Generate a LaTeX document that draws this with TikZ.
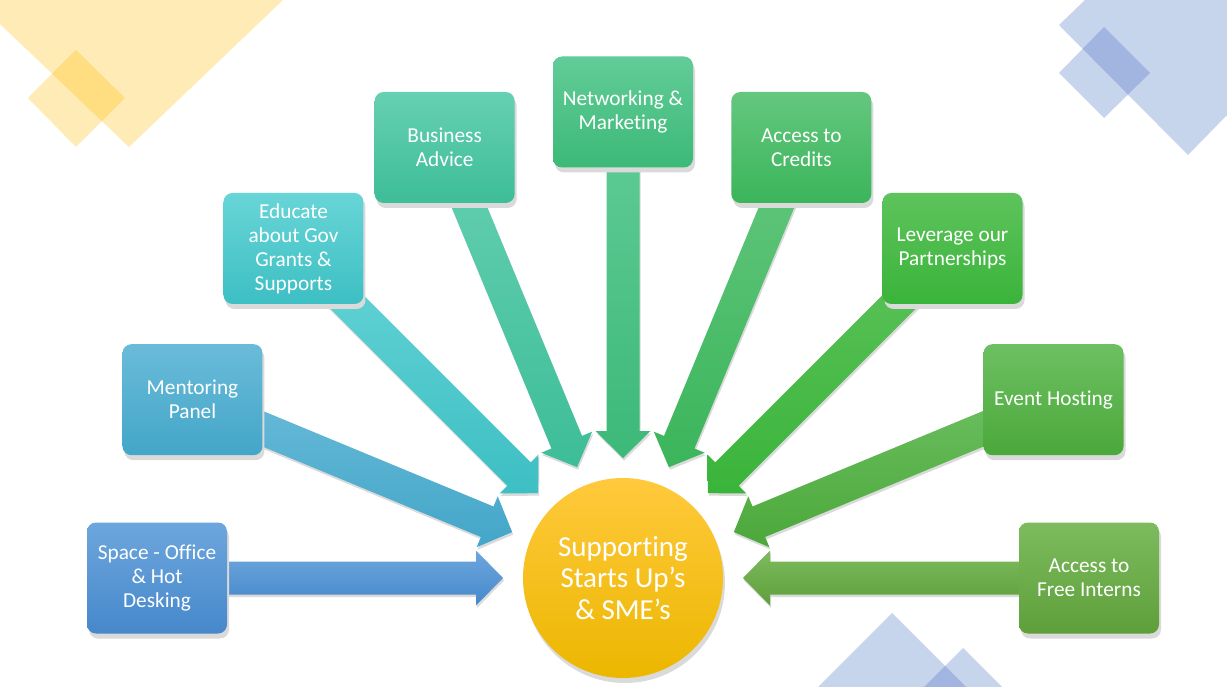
\documentclass[tikz,border=0pt]{standalone}
\usepackage{fontspec}
\setmainfont{Carlito}[Ligatures=NoCommon]
\usetikzlibrary{calc}
\definecolor{decoY}{HTML}{FEEBB5}\definecolor{decoYY}{HTML}{FEDE80}
\definecolor{decoB}{HTML}{C6D4EC}\definecolor{decoBB}{HTML}{A2B5E0}
\definecolor{shadowgray}{HTML}{DADADA}
\definecolor{cAt}{HTML}{6DA6DD}\definecolor{cAb}{HTML}{4688CB}
\definecolor{cBt}{HTML}{6ABBD9}\definecolor{cBb}{HTML}{43A6C8}
\definecolor{cCt}{HTML}{68D5D7}\definecolor{cCb}{HTML}{3DBFC3}
\definecolor{cDt}{HTML}{66D0B2}\definecolor{cDb}{HTML}{3DBD98}
\definecolor{cEt}{HTML}{62CC98}\definecolor{cEb}{HTML}{3CB978}
\definecolor{cFt}{HTML}{64C77E}\definecolor{cFb}{HTML}{3BB55B}
\definecolor{cGt}{HTML}{5EC35C}\definecolor{cGb}{HTML}{3AB43A}
\definecolor{cHt}{HTML}{6DC062}\definecolor{cHb}{HTML}{4BA83A}
\definecolor{cIt}{HTML}{7DBB5E}\definecolor{cIb}{HTML}{5E9F3A}
\definecolor{circT}{HTML}{FFC93C}\definecolor{circB}{HTML}{ECB700}
\pgfdeclarelayer{paper}
\pgfdeclarelayer{deco}
\pgfdeclarelayer{ashadow}
\pgfdeclarelayer{arrows}
\pgfsetlayers{paper,deco,ashadow,arrows,main}
\tikzset{
  shadowshift/.style={transform canvas={shift={(1pt,-2.5pt)}}},
  boxshape/.style={rounded corners=9pt, minimum width=140pt, minimum height=111pt, inner sep=0pt},
  box/.style={boxshape, text=white, align=center, font=\fontsize{21.3}{24}\selectfont},
  boxshadow/.style={boxshape, fill=shadowgray, shadowshift},
  hubshape/.style={circle, minimum size=200pt, inner sep=0pt},
  hub/.style={hubshape, text=white, align=center,
    top color=circT, bottom color=circB, font=\fontsize{29}{31.5}\selectfont},
}
% #1 angle, #2 name, #3 top colour, #4 bottom colour, #5 text
\newcommand{\ringbox}[5]{%
  \node[boxshadow] at ($(c0)+(#1:466)$) {};
  \node[box, top color=#3, bottom color=#4] (#2) at ($(c0)+(#1:466)$) {#5};
}
% #1 box node, #2 tip coordinate
\newcommand{\arrowoutline}[2]{%
    ($(#1)!16.5pt!90:(#2)$) -- ($(#2h)!16.5pt!90:(#2)$) -- ($(#2h)!27.5pt!90:(#2)$)
    -- (#2) -- ($(#2h)!27.5pt!-90:(#2)$) -- ($(#2h)!16.5pt!-90:(#2)$)
    -- ($(#1)!16.5pt!-90:(#2)$) -- cycle}
% #1 box node, #2 tip coordinate, #3 top colour, #4 bottom colour
\newcommand{\radarrow}[4]{%
  \coordinate (#2h) at ($(#2)!27pt!(#1)$);
  \begin{pgfonlayer}{ashadow}
    \fill[shadowgray, shadowshift] \arrowoutline{#1}{#2};
  \end{pgfonlayer}
  \begin{pgfonlayer}{arrows}
    \path[top color=#3, bottom color=#4] \arrowoutline{#1}{#2};
  \end{pgfonlayer}
}
\begin{document}
\begin{tikzpicture}[x=1pt, y=-1pt]
\begin{pgfonlayer}{paper}
  \fill[white] (0,0) rectangle (1227,687);
\end{pgfonlayer}
\useasboundingbox (0,0) rectangle (1227,687);
\begin{pgfonlayer}{deco}
  \fill[decoY] (0,0) -- (283,0) -- (129,147) -- (0,24) -- cycle;
  \fill[decoY] (76,50) -- (125,98) -- (76,147) -- (28,98) -- cycle;
  \begin{scope}
    \clip (0,0) -- (283,0) -- (129,147) -- (0,24) -- cycle;
    \fill[decoYY] (76,50) -- (125,98) -- (76,147) -- (28,98) -- cycle;
  \end{scope}
  \fill[decoB] (1085,0) -- (1227,0) -- (1227,115) -- (1188,155) -- (1059,25) -- cycle;
  \fill[decoB] (1104,27) -- (1150,73) -- (1104,118) -- (1059,73) -- cycle;
  \begin{scope}
    \clip (1085,0) -- (1227,0) -- (1227,115) -- (1188,155) -- (1059,25) -- cycle;
    \fill[decoBB] (1104,27) -- (1150,73) -- (1104,118) -- (1059,73) -- cycle;
  \end{scope}
  \fill[decoB] (818,687) -- (892,613) -- (966,687) -- cycle;
  \fill[decoB] (924,687) -- (963,648) -- (1002,687) -- cycle;
  \begin{scope}
    \clip (818,687) -- (892,613) -- (966,687) -- cycle;
    \fill[decoBB] (924,687) -- (963,648) -- (1002,687) -- cycle;
  \end{scope}
\end{pgfonlayer}

\coordinate (c0) at (623,578);
\node[hubshape, fill=shadowgray, shadowshift] at (c0) {};
\node[hub] (hub) at (c0) {Supporting\\Starts Up’s\\\& SME’s};

\ringbox{180}{b1}{cAt}{cAb}{Space - Office\\\& Hot\\Desking}
\ringbox{202.5}{b2}{cBt}{cBb}{Mentoring\\Panel}
\ringbox{225}{b3}{cCt}{cCb}{Educate\\about Gov\\Grants \&\\Supports}
\ringbox{247.5}{b4}{cDt}{cDb}{Business\\Advice}
\ringbox{270}{b5}{cEt}{cEb}{Networking \&\\Marketing}
\ringbox{292.5}{b6}{cFt}{cFb}{Access to\\Credits}
\ringbox{315}{b7}{cGt}{cGb}{Leverage our\\Partnerships}
\ringbox{337.5}{b8}{cHt}{cHb}{Event Hosting}
\ringbox{360}{b9}{cIt}{cIb}{Access to\\Free Interns}

\foreach \i/\a in {1/180,2/202.5,3/225,4/247.5,5/270,6/292.5,7/315,8/337.5,9/360}
  \coordinate (t\i) at ($(c0)+(\a:120)$);

\radarrow{b1}{t1}{cAt}{cAb}
\radarrow{b2}{t2}{cBt}{cBb}
\radarrow{b3}{t3}{cCt}{cCb}
\radarrow{b4}{t4}{cDt}{cDb}
\radarrow{b5}{t5}{cEt}{cEb}
\radarrow{b6}{t6}{cFt}{cFb}
\radarrow{b7}{t7}{cGt}{cGb}
\radarrow{b8}{t8}{cHt}{cHb}
\radarrow{b9}{t9}{cIt}{cIb}
\end{tikzpicture}
\end{document}
